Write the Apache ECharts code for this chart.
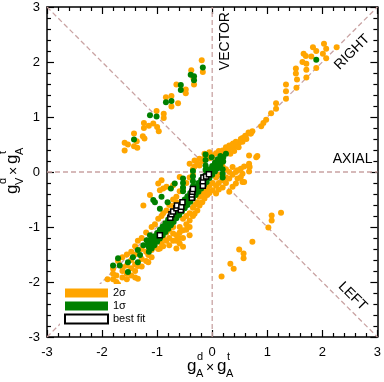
<!DOCTYPE html>
<html>
<head>
<meta charset="utf-8">
<script src="https://cdn.jsdelivr.net/npm/echarts@6/dist/echarts.min.js"></script>
<style>
  html, body { margin: 0; padding: 0; background: #fff; }
  #chart { width: 384px; height: 382px; }
</style>
</head>
<body>
<div id="chart"></div>
<script>
// legend names
const seriesNames = ['2σ', '1σ', 'best fit'];

// 2 sigma region (orange)
const twoSigma = [
  // upper-left branch
  [-0.19,2.03],[-0.17,1.82],[-0.38,1.85],[-0.33,1.59],[-0.65,1.59],[-0.48,1.50],[-0.48,1.43],[-0.84,1.36],
  [-0.74,1.38],[-0.74,1.19],[-0.62,1.25],[-1.01,1.11],[-0.88,1.06],[-0.88,0.98],[-1.07,0.88],[-1.24,0.89],
  [-1.24,0.80],[-1.15,0.84],[-1.00,0.82],[-0.97,0.74],[-1.26,0.65],[-1.23,0.61],[-1.42,0.70],[-1.37,0.56],
  [-1.42,0.47],[-1.36,0.44],[-1.59,0.53],[-1.53,0.50],[-1.59,0.39],[-0.34,1.70],
  // upper-right along the diagonal
  [2.03,2.33],[2.26,2.27],[1.83,2.27],[1.89,2.20],[2.07,2.24],[2.01,2.15],[1.66,2.15],[1.70,2.11],
  [1.80,2.10],[1.64,2.00],[1.71,1.97],[1.89,1.89],[2.07,2.07],[1.52,1.88],[1.71,1.86],[1.52,1.79],
  [1.54,1.68],[1.71,1.72],[1.34,1.59],[1.34,1.47],[1.53,1.53],[1.34,1.33],[1.16,1.25],[1.16,1.15],
  [1.07,1.07],[0.98,0.95],[0.93,0.89],[0.89,0.83],[0.73,0.74],[0.70,0.70],[0.60,0.64],[0.55,0.58],
  [0.49,0.53],[0.40,0.47],[0.30,0.40],[0.35,0.44],[0.45,0.50],[0.38,0.52],[0.52,0.60],[0.60,0.66],
  [0.66,0.72],[0.55,0.55],[0.48,0.45],[0.40,0.38],[0.33,0.33],[0.62,0.60],
  // lower-right
  [1.25,-0.74],[1.08,-0.79],[1.08,-0.88],[1.02,-1.01],[0.73,-1.27],[0.49,-1.41],[0.57,-1.48],[0.57,-1.57],
  [0.33,-1.67],[0.39,-1.76],[0.17,-1.90],
  // main band
  [-1.90,-1.95],[-1.80,-1.76],[-1.80,-1.85],[-1.80,-1.95],[-1.74,-1.88],[-1.74,-2.00],[-1.71,-2.04],[-1.71,-1.62],
  [-1.63,-1.92],[-1.63,-1.80],[-1.63,-1.55],[-1.62,-1.73],[-1.55,-1.50],[-1.55,-1.70],[-1.55,-1.85],[-1.55,-1.95],
  [-1.47,-1.45],[-1.47,-1.60],[-1.47,-1.75],[-1.47,-1.88],[-1.40,-1.35],[-1.40,-1.50],[-1.40,-1.68],[-1.40,-1.80],
  [-1.40,-1.92],[-1.35,-1.25],[-1.35,-1.71],[-1.35,-1.94],[-1.28,-1.20],[-1.28,-1.40],[-1.28,-1.58],[-1.28,-1.72],
  [-1.25,-0.61],[-1.20,-1.10],[-1.20,-1.45],[-1.20,-1.62],[-1.16,-1.51],[-1.16,-1.64],[-1.13,-0.42],[-1.10,-1.00],
  [-1.10,-1.30],[-1.10,-1.42],[-1.10,-1.55],[-1.04,-1.36],[-1.04,-0.95],[-0.98,-0.21],[-0.98,-0.85],[-0.98,-1.24],
  [-0.98,-1.40],[-0.95,-1.39],[-0.95,-0.33],[-0.92,-0.15],[-0.92,-0.80],[-0.92,-1.30],[-0.89,-0.30],[-0.89,-0.75],
  [-0.89,-1.20],[-0.89,-1.35],[-0.83,-0.27],[-0.83,-0.70],[-0.83,-1.10],[-0.83,-1.25],[-0.78,-0.60],[-0.78,-1.05],
  [-0.78,-1.20],[-0.78,-1.33],[-0.71,-0.24],[-0.71,-0.50],[-0.71,-0.62],[-0.71,-1.00],[-0.71,-1.12],[-0.71,-1.25],
  [-0.65,-0.45],[-0.65,-0.55],[-0.65,-1.15],[-0.65,-1.25],[-0.65,-1.39],[-0.59,-0.09],[-0.59,-0.35],[-0.59,-1.00],
  [-0.59,-1.10],[-0.59,-1.20],[-0.59,-1.30],[-0.53,-0.30],[-0.53,-0.85],[-0.53,-1.06],[-0.53,-1.20],[-0.53,-1.36],
  [-0.47,-0.20],[-0.47,-0.80],[-0.47,-0.95],[-0.47,-1.05],[-0.41,0.15],[-0.41,-0.10],[-0.41,-0.75],[-0.41,-0.88],
  [-0.41,-1.00],[-0.41,-1.15],[-0.35,0.05],[-0.35,-0.05],[-0.35,-0.65],[-0.35,-0.80],[-0.32,0.21],[-0.32,0.10],
  [-0.32,-0.60],[-0.32,-0.76],[-0.27,0.15],[-0.27,-0.55],[-0.27,-0.70],[-0.23,0.24],[-0.23,0.12],[-0.23,-0.45],
  [-0.23,-0.61],[-0.18,0.20],[-0.18,-0.40],[-0.18,-0.55],[-0.14,0.33],[-0.14,0.25],[-0.14,-0.35],[-0.14,-0.48],
  [-0.09,0.30],[-0.09,-0.30],[-0.09,-0.42],[-0.05,0.36],[-0.05,0.25],[-0.05,-0.25],[-0.05,-0.38],[0.01,0.30],
  [0.01,-0.20],[0.01,-0.33],[0.07,0.34],[0.07,0.20],[0.07,-0.10],[0.07,-0.25],[0.07,-0.39],[0.12,0.38],
  [0.12,0.15],[0.12,-0.05],[0.12,-0.20],[0.12,-0.32],[0.19,0.39],[0.19,0.30],[0.19,0.10],[0.19,-0.15],
  [0.19,-0.28],[0.25,0.45],[0.25,0.42],[0.25,0.05],[0.25,-0.10],[0.25,-0.20],[0.31,0.48],[0.31,-0.36],
  [0.31,0.00],[0.31,-0.12],[0.37,0.50],[0.37,0.09],[0.37,-0.05],[0.37,-0.27],[0.43,0.55],[0.43,-0.21],
  [0.43,0.00],[0.46,0.03],[0.46,-0.12],[0.52,0.58],[0.52,0.06],[0.52,-0.09],[0.55,-0.18],[0.55,0.62],
  [0.55,-0.03],[0.58,0.10],[0.58,-0.18],[0.67,0.30],[0.67,0.15],[0.67,0.12],[0.67,0.01],[0.70,0.70],
  [0.82,0.29],[0.80,0.27],[0.68,0.09]
];

// 1 sigma region (green)
const oneSigma = [
  [-0.17,1.90],[-0.39,1.77],[-0.33,1.74],[-0.33,1.67],[-0.57,1.58],[-0.57,1.49],[-0.84,1.27],[-0.74,1.29],
  [-1.13,1.03],[-1.01,1.01],[-1.42,0.59],[1.89,2.04],
  [-1.80,-1.70],[-1.71,-1.57],[-1.68,-1.70],[-1.53,-1.82],[-1.53,-1.64],[-1.44,-1.55],[-1.35,-1.64],[-1.35,-1.42],
  [-1.31,-1.51],[-1.25,-1.33],[-1.19,-1.24],[-1.13,-1.15],[-1.16,-1.30],
  [-1.07,-0.51],[-0.95,-0.67],[-0.92,-0.45],[-0.81,-0.55],[-1.04,-0.55],[-0.68,-0.21],[-0.75,-0.30],
  [-1.15,-1.45],[-1.15,-1.37],[-1.15,-1.29],[-1.10,-1.39],[-1.10,-1.31],[-1.10,-1.23],[-1.05,-1.33],[-1.05,-1.25],
  [-1.05,-1.17],[-1.00,-1.27],[-1.00,-1.19],[-1.00,-1.11],[-0.95,-1.21],[-0.95,-1.13],[-0.95,-1.05],[-0.90,-1.15],
  [-0.90,-1.07],[-0.90,-0.99],[-0.85,-1.09],[-0.85,-1.01],[-0.85,-0.93],[-0.80,-1.03],[-0.80,-0.95],[-0.80,-0.87],
  [-0.75,-0.97],[-0.75,-0.89],[-0.75,-0.81],[-0.70,-0.91],[-0.70,-0.83],[-0.70,-0.75],[-0.65,-0.84],[-0.65,-0.76],
  [-0.65,-0.68],[-0.60,-0.78],[-0.60,-0.70],[-0.60,-0.62],[-0.55,-0.72],[-0.55,-0.64],[-0.55,-0.56],[-0.50,-0.66],
  [-0.50,-0.58],[-0.50,-0.50],[-0.45,-0.60],[-0.45,-0.52],[-0.45,-0.44],[-0.40,-0.54],[-0.40,-0.46],[-0.40,-0.38],
  [-0.35,-0.48],[-0.35,-0.40],[-0.35,-0.32],[-0.30,-0.42],[-0.30,-0.34],[-0.30,-0.26],[-0.25,-0.36],[-0.25,-0.28],
  [-0.25,-0.20],[-0.20,-0.30],[-0.20,-0.22],[-0.20,-0.14],[-0.15,-0.24],[-0.15,-0.16],[-0.15,-0.08],[-0.10,-0.18],
  [-0.10,-0.10],[-0.10,-0.02],[-0.05,-0.11],[-0.05,-0.03],[-0.05,0.05],[0.00,-0.05],[0.00,0.03],[0.00,0.11],
  [0.05,0.01],[0.05,0.09],[0.05,0.17],[0.10,0.07],[0.10,0.15],[0.10,0.23],[0.15,0.13],[0.15,0.21],
  [0.15,0.29],[0.20,0.19],[0.20,0.27],[0.25,0.33],
  [-0.53,-0.12],[-0.53,-0.20],[-0.53,-0.28],[-0.53,-0.35],[-0.35,0.02],[-0.35,-0.08],[-0.35,-0.17],[-0.35,-0.26],
  [-0.12,0.32],[-0.12,0.22],[-0.12,0.12],[-0.12,0.04],[0.19,0.05],[0.19,-0.03],[0.19,-0.10],[-0.01,0.27]
];

// best fit points
const bestFit = [
  [-0.95,-1.15],[-0.76,-0.83],[-0.74,-0.77],[-0.71,-0.72],[-0.65,-0.66],[-0.64,-0.61],[-0.57,-0.69],[-0.56,-0.63],
  [-0.54,-0.55],[-0.37,-0.47],[-0.37,-0.41],[-0.36,-0.36],[-0.35,-0.31],[-0.17,-0.25],[-0.17,-0.17],[-0.16,-0.10],
  [-0.11,-0.08],[-0.06,-0.04]
];

// dashed guide lines (end points in data units)
const guideLines = [
  [[-3, -3], [3, 3]],
  [[-3, 3], [3, -3]],
  [[0, -3], [0, 3]],
  [[-3, 0], [3, 0]]
];

// region labels
const regionNames = ['VECTOR', 'RIGHT', 'AXIAL', 'LEFT'];
const regionPos = [[0.23, 2.38], [2.54, 2.18], [2.55, 0.23], [2.55, -2.26]];
const regionAngle = [90, 45, 0, -45];

const FONT = 'Liberation Sans, Arial, sans-serif';

function makeAxis(pos, showLabel, margin) {
  return {
    type: 'value', position: pos, min: -3, max: 3, interval: 1,
    axisLine: { onZero: false, lineStyle: { color: '#000', width: 1.5 } },
    axisTick: { inside: true, length: 7, lineStyle: { color: '#000', width: 1.2 } },
    minorTick: { show: true, splitNumber: 5, length: 4, lineStyle: { color: '#000', width: 1.2 } },
    splitLine: { show: false },
    axisLabel: { show: showLabel, color: '#000', fontSize: 13, fontFamily: FONT, margin: margin }
  };
}

// g^{sup}_{sub} x g^t_A as separate text pieces
function mathTitle(sub, x, y, rot) {
  const pieces = [
    ['g', 0, -6, 17], ['d', 10, -15, 11], [sub, 9, 2, 11], ['×', 19, -4, 14],
    ['g', 30, -6, 17], ['t', 40, -15, 11], ['A', 39, 2, 11]
  ];
  return {
    type: 'group', x: x, y: y, rotation: rot,
    children: pieces.map(p => ({
      type: 'text', x: p[1], y: p[2],
      style: { text: p[0], fontSize: p[3], fontFamily: FONT, fill: '#000', verticalAlign: 'middle' }
    }))
  };
}

const chart = echarts.init(document.getElementById('chart'));

const series = guideLines.map(l => ({
  type: 'line', data: l, symbol: 'none', silent: true, z: 1,
  lineStyle: { color: '#c9a3a3', width: 1.3, type: [5, 3] }
}));

series.push({
  name: seriesNames[0], type: 'scatter', data: twoSigma, symbolSize: 6,
  itemStyle: { color: '#ffa500', opacity: 1 }, z: 2
});
series.push({
  name: seriesNames[1], type: 'scatter', data: oneSigma, symbolSize: 6,
  itemStyle: { color: '#008000', opacity: 1 }, z: 3
});
series.push({
  name: seriesNames[2], type: 'scatter', data: bestFit, symbol: 'rect', symbolSize: 5,
  itemStyle: { color: '#fff', borderColor: '#000', borderWidth: 1.5, opacity: 1 }, z: 4
});
series.push({
  type: 'scatter', symbolSize: 0, silent: true, z: 5,
  itemStyle: { opacity: 1 },
  data: regionNames.map((n, i) => ({
    name: n, value: regionPos[i],
    label: { rotate: regionAngle[i] }
  })),
  label: {
    show: true, position: 'inside', formatter: '{b}',
    color: '#000', fontSize: 14, fontFamily: FONT, textBorderWidth: 0
  }
});

chart.setOption({
  animation: false,
  backgroundColor: '#fff',
  grid: { left: 47, right: 5, top: 7, bottom: 45 },
  xAxis: [makeAxis('bottom', true, 9), makeAxis('top', false, 8)],
  yAxis: [makeAxis('left', true, 7), makeAxis('right', false, 8)],
  legend: {
    data: seriesNames, orient: 'vertical', left: 60, top: 284,
    itemWidth: 43, itemHeight: 9, itemGap: 1, itemTextGap: 8, icon: 'rect',
    backgroundColor: '#fff', padding: [3, 4, 3, 4],
    textStyle: { fontSize: 11, lineHeight: 12, fontFamily: FONT, color: '#000' }
  },
  graphic: [
    mathTitle('A', 187, 372, 0),
    mathTitle('V', 18, 194, Math.PI / 2)
  ],
  series: series
});
</script>
</body>
</html>
